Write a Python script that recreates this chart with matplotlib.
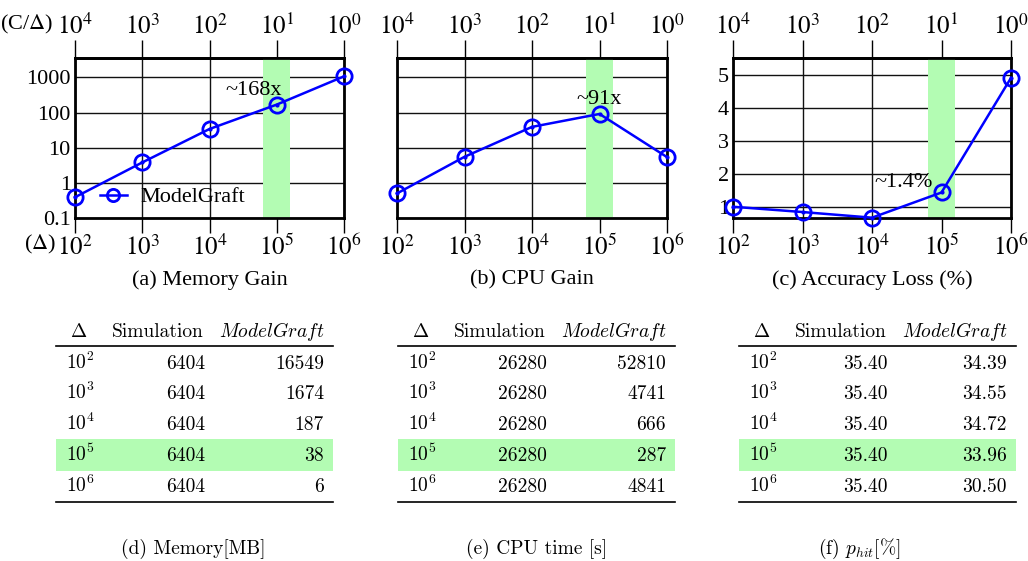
import matplotlib
matplotlib.use('Agg')
import matplotlib.pyplot as plt

# --- data ---
delta = [1e2, 1e3, 1e4, 1e5, 1e6]
delta_labels = [r'$10^{2}$', r'$10^{3}$', r'$10^{4}$', r'$10^{5}$', r'$10^{6}$']
c_over_delta = [1e4, 1e3, 1e2, 1e1, 1e0]
cd_labels = [r'$10^{4}$', r'$10^{3}$', r'$10^{2}$', r'$10^{1}$', r'$10^{0}$']

mem_gain = [0.39, 3.8, 34, 168, 1067]
cpu_gain = [0.50, 5.5, 39, 91, 5.4]
acc_loss = [1.01, 0.85, 0.68, 1.44, 4.90]

sim_mem = ['6404', '6404', '6404', '6404', '6404']
mg_mem = ['16549', '1674', '187', '38', '6']
sim_cpu = ['26280', '26280', '26280', '26280', '26280']
mg_cpu = ['52810', '4741', '666', '287', '4841']
sim_phit = ['35.40', '35.40', '35.40', '35.40', '35.40']
mg_phit = ['34.39', '34.55', '34.72', '33.96', '30.50']

GREEN = '#b3fcb3'
FS = 16

plt.rcParams['font.family'] = ['Liberation Serif', 'DejaVu Serif']
plt.rcParams['mathtext.fontset'] = 'stix'

fig = plt.figure(figsize=(10.28, 5.61), dpi=100)
W, H = 1028.0, 561.0


def panel(left, right, values, ylog, ylim, yticks, ylabels, caption, note, note_xy):
    ax = fig.add_axes([left / W, 1 - 218 / H, (right - left) / W, 160 / H])
    ax.set_xscale('log')
    if ylog:
        ax.set_yscale('log')
    ax.set_xlim(1e2, 1e6)
    ax.set_ylim(*ylim)
    ax.axvspan(10 ** 4.8, 10 ** 5.2, color=GREEN, lw=0, zorder=1.6)
    ax.plot(delta, values, color='#0000ff', lw=1.8, marker='o', ms=11,
            mfc='none', mec='#0000ff', mew=2, zorder=3, clip_on=False,
            label='ModelGraft')
    ax.plot(delta, values, ls='none', marker='o', ms=2, color='#0000ff',
            zorder=3.1, clip_on=False)
    ax.set_xticks(delta, delta_labels)
    ax.xaxis.set_minor_locator(matplotlib.ticker.NullLocator())
    ax.set_yticks(yticks, ylabels)
    ax.yaxis.set_minor_locator(matplotlib.ticker.NullLocator())
    ax.tick_params(axis='x', direction='out', length=11, width=1,
                   labelsize=18, pad=1, color='black')
    ax.tick_params(axis='y', length=0, labelsize=FS, pad=3)
    ax.grid(True, color='#111111', lw=1)
    for s in ax.spines.values():
        s.set_linewidth(2)
        s.set_zorder(2.5)
    top = ax.secondary_xaxis('top', functions=(lambda x: 1e6 / x, lambda x: 1e6 / x))
    top.set_xticks(c_over_delta, cd_labels)
    top.xaxis.set_minor_locator(matplotlib.ticker.NullLocator())
    top.tick_params(direction='out', length=13, width=1, labelsize=18, pad=1)
    top.spines['top'].set_linewidth(2)
    fig.text((left + right) / 2 / W, 1 - 280 / H, caption, ha='center',
             va='center', fontsize=FS)
    ax.text(note_xy[0], note_xy[1], note, fontsize=FS, ha='center',
            va='center', zorder=4)
    return ax


ax_a = panel(75, 344, mem_gain, True, (0.1, 3550), [0.1, 1, 10, 100, 1000],
             ['0.1', '1', '10', '100', '1000'], '(a) Memory Gain', '~168x',
             (4.6e4, 420))
ax_a.legend(loc='center left', bbox_to_anchor=(0.093, 0.13), frameon=False,
            fontsize=FS, borderpad=0, borderaxespad=0, handlelength=1.2,
            handletextpad=0.6, markerscale=0.8)
fig.text(0 / W, 1 - 24 / H, r'(C/$\Delta$)', fontsize=FS, ha='left', va='center')
fig.text(24 / W, 1 - 244 / H, r'($\Delta$)', fontsize=FS, ha='left', va='center')

ax_b = panel(397, 667, cpu_gain, True, (0.1, 3550), [0.1, 1, 10, 100, 1000],
             ['', '', '', '', ''], '(b) CPU Gain', '~91x', (1.0e5, 230))
ax_c = panel(733, 1011, acc_loss, False, (0.67, 5.5), [1, 2, 3, 4, 5],
             ['1', '2', '3', '4', '5'], '(c) Accuracy Loss (%)', '~1.4%',
             (2.8e4, 1.75))

# --- tables ---
tab = fig.add_axes([0, 0, 1, 1])
tab.set_xlim(0, W)
tab.set_ylim(H, 0)
tab.axis('off')

TFS = 14
cm = dict(family='cmr10', math_fontfamily='cm', fontsize=TFS)


def table(x0, sim, mg, caption, cap_x):
    width = 277
    tab.text(x0 + 23, 336.5, r'$\Delta$', ha='center', va='baseline', **cm)
    tab.text(x0 + 102, 336.5, 'Simulation', ha='center', va='baseline', **cm)
    tab.text(x0 + 268, 336.5, r'$\mathit{ModelGraft}$', ha='right',
             va='baseline', **cm)
    tab.plot([x0, x0 + width], [346, 346], color='black', lw=1.2)
    tab.add_patch(plt.Rectangle((x0, 439), width, 32, color=GREEN, lw=0))
    baselines = [368.5, 399, 430, 461, 492]
    for lab, s, m, yb in zip(delta_labels, sim, mg, baselines):
        tab.text(x0 + 10, yb, lab, ha='left', va='baseline', **cm)
        tab.text(x0 + 149, yb, s, ha='right', va='baseline', **cm)
        tab.text(x0 + 268, yb, m, ha='right', va='baseline', **cm)
    tab.plot([x0, x0 + width], [502, 502], color='black', lw=1.2)
    tab.text(cap_x, 554, caption, ha='center', va='baseline', **cm)


table(56, sim_mem, mg_mem, '(d) Memory[MB]', 193)
table(398, sim_cpu, mg_cpu, '(e) CPU time [s]', 537)
table(739, sim_phit, mg_phit, r'(f) $p_{hit}$[%]', 859)

fig.savefig('out.png', dpi=100)
